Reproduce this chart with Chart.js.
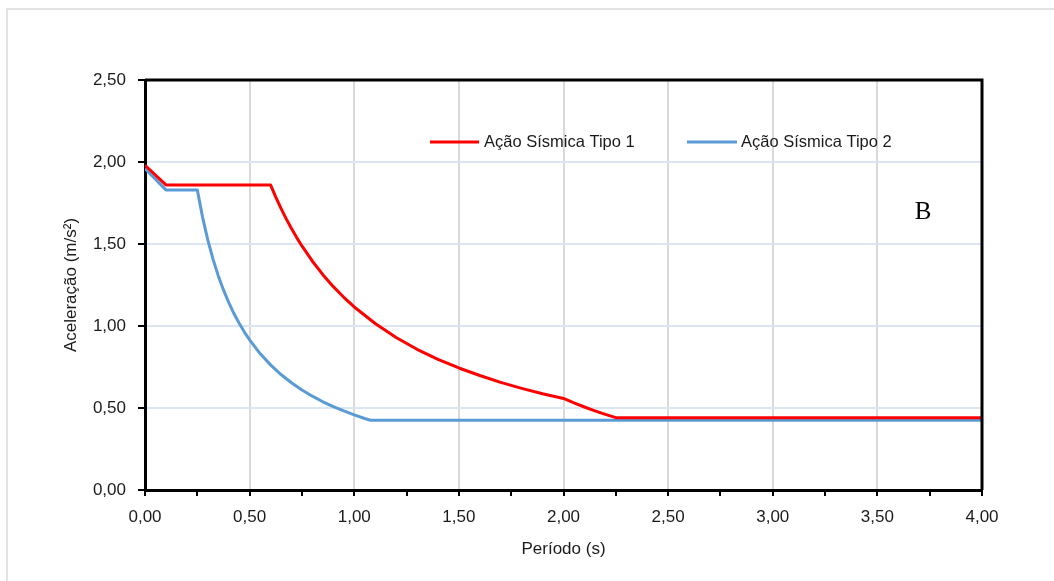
<!DOCTYPE html>
<html>
<head>
<meta charset="utf-8">
<script src="https://cdn.jsdelivr.net/npm/chart.js@4.4.1/dist/chart.umd.min.js"></script>
<style>
  html, body { margin: 0; padding: 0; background: #fff; }
  #wrap { width: 1054px; height: 581px; position: relative; }
</style>
</head>
<body>
<div id="wrap"><canvas id="spectrum"></canvas></div>
<script>
// ================= DATA =================
const seriesNames = ['Ação Sísmica Tipo 1', 'Ação Sísmica Tipo 2'];

// Tipo 1 (red)
const type1Period = [0, 0.1, 0.6, 0.625, 0.65, 0.675, 0.7, 0.725, 0.75, 0.8, 0.85, 0.9, 0.95, 1.0, 1.1, 1.2, 1.3, 1.4, 1.5, 1.6, 1.7, 1.8, 1.9, 2.0, 2.05, 2.1, 2.15, 2.2, 2.25, 4.0];
const type1Accel  = [1.98, 1.86, 1.86, 1.786, 1.717, 1.653, 1.594, 1.539, 1.488, 1.395, 1.313, 1.240, 1.175, 1.116, 1.015, 0.930, 0.858, 0.797, 0.744, 0.698, 0.656, 0.620, 0.587, 0.558, 0.531, 0.506, 0.483, 0.461, 0.441, 0.441];

// Tipo 2 (blue)
const type2Period = [0, 0.1, 0.25, 0.275, 0.3, 0.325, 0.35, 0.375, 0.4, 0.425, 0.45, 0.475, 0.5, 0.55, 0.6, 0.65, 0.7, 0.75, 0.8, 0.85, 0.9, 0.95, 1.0, 1.05, 1.077, 4.0];
const type2Accel  = [1.96, 1.83, 1.83, 1.664, 1.525, 1.408, 1.307, 1.220, 1.144, 1.076, 1.017, 0.963, 0.915, 0.832, 0.763, 0.704, 0.654, 0.610, 0.572, 0.538, 0.508, 0.482, 0.458, 0.436, 0.425, 0.425];

const xTicks = [0, 0.5, 1, 1.5, 2, 2.5, 3, 3.5, 4];
const yTicks = [0, 0.5, 1, 1.5, 2, 2.5];

const annotation = 'B';

// ================= HELPERS =================
const FONT = "'Liberation Sans', Arial, sans-serif";
const fmt = v => v.toFixed(2).replace('.', ',');
const isMajor = v => xTicks.some(t => Math.abs(t - v) < 1e-6);

function toPoints(xs, ys) {
    return xs.map((x, i) => ({ x: x, y: ys[i] }));
}

// frame, outer border, legend and the "B" label
const decorations = {
    id: 'decorations',
    beforeDraw(chart) {
        const c = chart.ctx;
        c.save();
        c.strokeStyle = '#e3e3e3';
        c.lineWidth = 2;
        c.beginPath();
        c.moveTo(7, chart.height);
        c.lineTo(7, 9);
        c.lineTo(chart.width, 9);
        c.stroke();
        c.restore();
    },
    afterDatasetsDraw(chart) {
        const c = chart.ctx;
        const a = chart.chartArea;
        c.save();
        c.strokeStyle = '#000';
        c.lineWidth = 3;
        c.beginPath();
        c.moveTo(a.left, a.top);
        c.lineTo(a.right, a.top);
        c.lineTo(a.right, a.bottom);
        c.stroke();

        // legend
        const items = [
            { x1: 430, x2: 479, tx: 484 },
            { x1: 687, x2: 737, tx: 741 }
        ];
        c.font = '16.5px ' + FONT;
        c.textBaseline = 'middle';
        c.textAlign = 'left';
        items.forEach((it, i) => {
            const ds = chart.data.datasets[i];
            c.strokeStyle = ds.borderColor;
            c.lineWidth = 3;
            c.beginPath();
            c.moveTo(it.x1, 142);
            c.lineTo(it.x2, 142);
            c.stroke();
            c.fillStyle = '#1a1a1a';
            c.fillText(ds.label, it.tx, 142);
        });

        // annotation
        c.font = "25px 'Liberation Serif', 'Times New Roman', serif";
        c.fillStyle = '#000';
        c.textAlign = 'center';
        c.fillText(annotation, 923, 212);
        c.restore();
    }
};

// ================= CHART =================
const ctx = document.getElementById('spectrum').getContext('2d');

new Chart(ctx, {
    type: 'line',
    data: {
        datasets: [
            {
                label: seriesNames[0],
                data: toPoints(type1Period, type1Accel),
                borderColor: '#ff0000',
                borderWidth: 3
            },
            {
                label: seriesNames[1],
                data: toPoints(type2Period, type2Accel),
                borderColor: '#5b9bd5',
                borderWidth: 3
            }
        ]
    },
    options: {
        responsive: true,
        maintainAspectRatio: false,
        animation: false,
        layout: { padding: { left: 0, top: 80, right: 72, bottom: 0 } },
        elements: {
            point: { radius: 0 },
            line: { tension: 0, borderJoinStyle: 'round' }
        },
        plugins: {
            legend: { display: false },
            tooltip: { enabled: false }
        },
        scales: {
            x: {
                type: 'linear',
                min: 0,
                max: 4,
                afterFit: s => { s.height = 91; },
                afterBuildTicks: s => {
                    s.ticks = [];
                    for (let i = 0; i <= 16; i++) s.ticks.push({ value: i * 0.25 });
                },
                ticks: {
                    autoSkip: false,
                    maxRotation: 0,
                    padding: 11,
                    color: '#1a1a1a',
                    font: { family: FONT, size: 17 },
                    callback: v => isMajor(v) ? fmt(v) : ''
                },
                grid: {
                    color: c => (c.tick && isMajor(c.tick.value) && c.tick.value > 0 && c.tick.value < 4) ? '#d9d9d9' : 'rgba(0,0,0,0)',
                    lineWidth: 2,
                    tickColor: '#000',
                    tickLength: 6,
                    tickWidth: 2
                },
                border: { color: '#000', width: 3 },
                title: {
                    display: true,
                    text: 'Período (s)',
                    color: '#1a1a1a',
                    font: { family: FONT, size: 17 },
                    padding: { top: 0, bottom: 21 }
                }
            },
            y: {
                min: 0,
                max: 2.5,
                afterFit: s => { s.width = 145; },
                afterBuildTicks: s => { s.ticks = yTicks.map(v => ({ value: v })); },
                ticks: {
                    padding: 12,
                    color: '#1a1a1a',
                    font: { family: FONT, size: 17 },
                    callback: v => fmt(v)
                },
                grid: {
                    color: c => (c.tick && c.tick.value > 0 && c.tick.value < 2.5) ? '#dbe6f2' : 'rgba(0,0,0,0)',
                    lineWidth: 2,
                    tickColor: '#000',
                    tickLength: 7,
                    tickWidth: 2
                },
                border: { color: '#000', width: 3 },
                title: {
                    display: true,
                    text: 'Aceleração (m/s²)',
                    color: '#1a1a1a',
                    font: { family: FONT, size: 17 },
                    padding: { top: 61, bottom: 0 }
                }
            }
        }
    },
    plugins: [decorations]
});
</script>
</body>
</html>
